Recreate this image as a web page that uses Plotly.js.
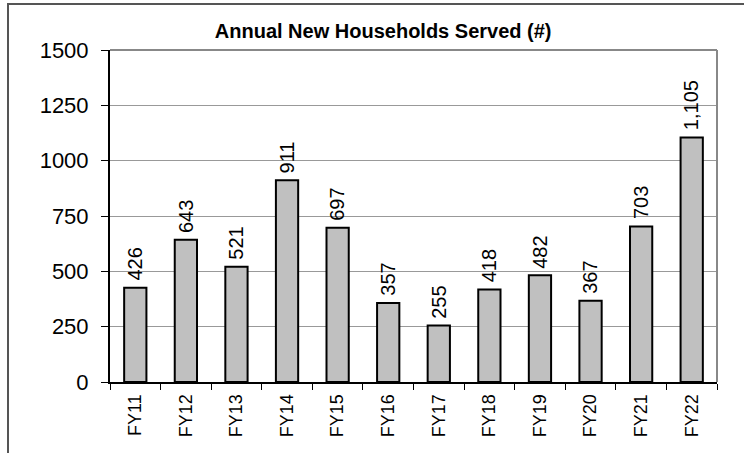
<!DOCTYPE html>
<html>
<head>
<meta charset="utf-8">
<script src="https://cdn.plot.ly/plotly-3.0.1.min.js"></script>
<style>
html,body{margin:0;padding:0;overflow:hidden;background:#fff;}
#wrap{position:relative;width:744px;height:453px;overflow:hidden;}
#frame{position:absolute;left:7px;top:3px;width:800px;height:520px;border:2px solid #555;pointer-events:none;z-index:5;}
#chart{position:absolute;left:0;top:0;width:744px;height:453px;}
</style>
</head>
<body>
<div id="wrap"><div id="chart"></div><div id="frame"></div></div>
<script>
const categories = ["FY11","FY12","FY13","FY14","FY15","FY16","FY17","FY18","FY19","FY20","FY21","FY22"];
const households = [426, 643, 521, 911, 697, 357, 255, 418, 482, 367, 703, 1105];
const yTicks = [0, 250, 500, 750, 1000, 1250, 1500];
const chartTitle = "Annual New Households Served (#)";
const FONT = "Liberation Sans, Arial, sans-serif";

const trace = {
  type: "bar",
  x: categories,
  y: households,
  marker: {color: "#C0C0C0", line: {color: "#000", width: 2}},
  cliponaxis: false,
  hoverinfo: "none"
};

const labels = categories.map((c, i) => ({
  x: c, y: households[i], xref: "x", yref: "y",
  text: households[i].toLocaleString("en-US"),
  showarrow: false, textangle: -90,
  xanchor: "center", yanchor: "bottom", yshift: 5,
  font: {family: FONT, size: 20, color: "#000"}
}));

const layout = {
  width: 744, height: 453,
  margin: {l: 110, r: 27, t: 50, b: 71},
  paper_bgcolor: "rgba(0,0,0,0)",
  plot_bgcolor: "#fff",
  bargap: 0.56,
  showlegend: false,
  title: {
    text: chartTitle,
    font: {family: FONT, size: 20, color: "#000", weight: "bold"},
    x: 0.515, xanchor: "center", y: 0.932, yanchor: "middle"
  },
  xaxis: {
    type: "category",
    showline: true, linecolor: "#000", linewidth: 2,
    ticks: "outside", tickson: "boundaries", ticklen: 6, tickcolor: "#000", tickwidth: 1,
    tickangle: -90, ticklabelstandoff: 3,
    tickfont: {family: FONT, size: 18, color: "#000"},
    showgrid: false, zeroline: false, fixedrange: true
  },
  yaxis: {
    range: [0, 1500],
    tickvals: yTicks,
    ticktext: yTicks.map(String),
    showline: true, linecolor: "#000", linewidth: 2,
    ticks: "outside", ticklen: 7, tickcolor: "#000", tickwidth: 1,
    ticklabelstandoff: 8,
    tickfont: {family: FONT, size: 22, color: "#000"},
    showgrid: true, gridcolor: "#999", gridwidth: 1,
    zeroline: false, fixedrange: true
  },
  annotations: labels,
  shapes: [
    {type: "line", xref: "paper", yref: "paper", x0: 1, x1: 1, y0: 0, y1: 1, line: {color: "#888", width: 2}},
    {type: "line", xref: "paper", yref: "paper", x0: 0, x1: 1, y0: 1, y1: 1, line: {color: "#888", width: 2}}
  ]
};

Plotly.newPlot("chart", [trace], layout, {displayModeBar: false, staticPlot: true});
</script>
</body>
</html>
